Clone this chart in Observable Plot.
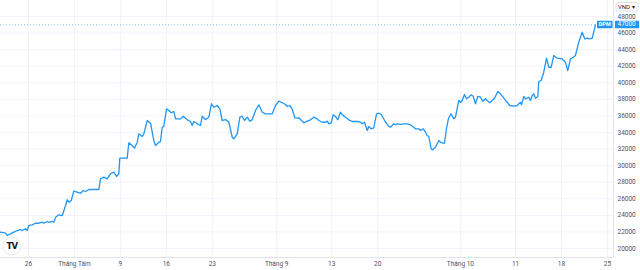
<!DOCTYPE html>
<html><head><meta charset="utf-8">
<script src="https://cdn.jsdelivr.net/npm/d3@7"></script>
<script src="https://cdn.jsdelivr.net/npm/@observablehq/plot@0.6"></script>
<style>html,body{margin:0;padding:0;background:#fff;} svg{display:block}</style>
</head><body><div id="chart"></div>
<script>
const symbol = "DPM";
const currency = "VND";
const lastPrice = 47000;
// time in trading days (0 = 26 Jul)
const t = [-3.05,-2.50,-2.32,-1.96,-1.60,-1.23,-0.87,-0.69,-0.33,-0.14,0.03,0.40,0.76,1.12,1.49,1.66,2.03,2.21,2.58,2.75,2.94,3.30,3.67,4.03,4.21,4.39,4.65,4.93,5.30,5.66,5.95,6.20,6.56,7.11,7.65,7.83,8.19,8.56,8.92,9.28,9.58,9.83,9.93,10.74,10.91,11.28,11.53,11.83,12.00,12.37,12.55,12.92,13.28,
13.63,13.82,14.18,14.36,14.55,14.72,15.02,15.27,15.53,15.81,16.00,16.54,16.83,17.27,17.63,17.81,17.99,18.36,18.72,18.90,19.26,19.62,19.91,20.16,20.53,20.82,21.08,21.44,21.80,22.17,22.34,22.71,23.00,23.25,23.50,23.80,24.08,24.34,24.70,25.06,25.43,25.79,26.52,26.88,27.24,27.61,27.97,28.15,28.43,28.69,28.98,29.24,29.41,29.60,
29.96,30.33,30.69,31.04,31.41,31.59,31.96,32.32,32.50,32.68,32.94,33.16,33.41,33.66,33.95,34.13,34.49,34.85,35.22,35.77,36.13,36.31,36.56,36.86,37.03,37.29,37.57,37.87,38.12,38.41,38.85,39.21,39.39,39.75,39.93,40.12,40.48,40.84,41.21,41.57,41.93,42.11,42.47,42.65,42.95,43.20,43.38,43.56,43.82,43.99,44.29,44.65,44.83,45.12,45.27,45.48,
45.70,45.97,
46.28,46.46,46.82,47.01,47.19,47.44,47.66,47.91,48.17,48.39,48.64,48.89,49.18,49.43,49.73,49.91,50.20,50.46,50.71,51.07,51.36,51.65,52.01,52.37,52.81,53.18,53.35,53.54,53.65,53.90,54.08,54.44,54.62,54.81,54.98,55.17,55.42,55.53,55.79,56.07,56.37,56.62,56.88,57.16,57.53,58.07,58.43,58.68,58.98,59.27,59.52,59.88,60.25,60.53,60.79,61.08,61.34,61.70];
const price = [21970,21850,21570,21770,21970,22170,22290,22170,22380,22170,22780,22860,23050,23050,23170,23050,23260,23140,23260,23170,23780,24070,23980,25190,25880,25590,25790,26920,26800,26670,27000,26880,27120,27120,27120,28410,28610,28410,29020,29210,28690,29020,30900,30900,32760,32430,32110,32830,33840,33520,33840,35450,35120,
33040,32430,32830,32910,34640,34730,36860,36660,36380,36540,35650,35650,35970,35530,35330,34850,35330,35050,34850,35970,35570,35850,37470,37050,37260,36860,35450,35570,35240,33430,33240,33840,35850,35970,35450,35850,35370,35530,36660,37340,36450,36260,36260,37260,37780,37590,37380,37140,37260,36860,35780,35730,35780,35570,
35170,35370,35530,35850,35650,35450,35240,35240,35370,35050,35170,36140,35930,35530,36450,36170,35850,35530,35330,35330,35240,35050,35240,34240,34730,34450,34570,36260,36330,36140,35240,34730,34640,35050,34930,35050,34970,35050,35050,34930,34640,34450,34450,34240,34450,34040,33640,33520,32030,31910,32230,33040,32830,32710,32710,34450,
35690,36260,
35650,35850,37860,37660,37860,38590,38070,38260,38550,38380,37470,38350,38260,37780,38070,37860,37590,37860,38140,38950,38670,38260,37740,37260,37180,37260,37470,37660,37340,38350,38070,38260,37860,38470,38670,38140,38350,40160,40280,41280,42970,41880,41880,43300,42970,42900,42490,41480,42900,43090,43300,44900,46110,45310,45380,45310,45380,47000];
const xTickPos = [0,5,10,15,20,27,33,38,47,53,58,63];
const xTickLabels = ["26","Tháng Tám","9","16","23","Tháng 9","13","20","Tháng 10","11","18","25"];
const yTicks = [20000,22000,24000,26000,28000,30000,32000,34000,36000,38000,40000,42000,44000,46000,48000];
const xDomain = [-3.05, 63.66];
const yDomain = [18914, 49934];

const data = t.map((x, i) => ({t: x, p: price[i]}));
const xTicks = xTickPos.map((x, i) => ({x, label: xTickLabels[i]}));

const grid = "#f0f3fa";
const blue = "#2196f3";
const txt = "#4c525e";

const chart = Plot.plot({
  width: 640, height: 270,
  marginLeft: 0, marginRight: 27, marginTop: 0, marginBottom: 13,
  x: {domain: xDomain, axis: null},
  y: {domain: yDomain, axis: null},
  style: {fontFamily: "Roboto, 'Liberation Sans', sans-serif", background: "#fff"},
  marks: [
    Plot.ruleY(yTicks, {stroke: grid, strokeWidth: 1}),
    Plot.ruleX(xTickPos, {stroke: grid, strokeWidth: 1}),
    Plot.ruleY([lastPrice], {stroke: blue, strokeOpacity: 0.55, strokeDasharray: "1,2"}),
    Plot.line(data, {x: "t", y: "p", stroke: blue, strokeWidth: 1.3}),
    Plot.ruleX([xDomain[1]], {stroke: "#e0e3eb"}),
    Plot.ruleY([yDomain[0]], {stroke: "#e0e3eb"}),
    Plot.text(yTicks, {y: d => d, text: d => String(d), frameAnchor: "right", dx: 4, textAnchor: "start", fontSize: 6.5, fill: txt}),
    Plot.text(xTicks, {x: "x", text: "label", frameAnchor: "bottom", dy: 6, lineAnchor: "middle", fontSize: 6.5, fill: txt})
  ]
});

const svg = d3.select(chart);
const yPix = chart.scale("y").apply(lastPrice);
const xRight = chart.scale("x").apply(xDomain[1]);
// symbol label
svg.append("rect").attr("x", xRight - 16).attr("y", yPix - 3.5).attr("width", 15.5).attr("height", 7.5).attr("fill", blue).attr("rx", 0.5);
svg.append("text").attr("x", xRight - 8.25).attr("y", yPix + 0.3).attr("text-anchor", "middle").attr("dominant-baseline", "middle")
  .attr("fill", "#fff").attr("font-size", 5.5).attr("font-weight", "bold").attr("font-family", "Roboto, sans-serif").text(symbol);
// price label
svg.append("rect").attr("x", xRight + 2).attr("y", yPix - 3.5).attr("width", 24).attr("height", 7.5).attr("fill", blue).attr("rx", 0.5);
svg.append("text").attr("x", xRight + 4.5).attr("y", yPix + 0.3).attr("text-anchor", "start").attr("dominant-baseline", "middle")
  .attr("fill", "#fff").attr("font-size", 6.5).attr("font-family", "Roboto, sans-serif").text(String(lastPrice));
// currency box
svg.append("rect").attr("x", xRight + 3).attr("y", 2.5).attr("width", 22).attr("height", 8.5).attr("fill", "#fff").attr("stroke", "#d1d4dc").attr("stroke-width", 0.7).attr("rx", 1.5);
svg.append("text").attr("x", xRight + 5).attr("y", 7).attr("text-anchor", "start").attr("dominant-baseline", "middle")
  .attr("fill", "#131722").attr("font-size", 6).attr("font-family", "Roboto, sans-serif").text(currency + " ▾");
// TradingView logo
svg.append("circle").attr("cx", 12).attr("cy", 246).attr("r", 9).attr("fill", "#fff").attr("stroke", "#e0e3eb").attr("stroke-width", 0.8);
svg.append("text").attr("x", 12).attr("y", 246.5).attr("text-anchor", "middle").attr("dominant-baseline", "middle")
  .attr("fill", "#131722").attr("font-size", 8.5).attr("font-weight", 900).attr("letter-spacing", -0.8).attr("font-family", "'DejaVu Sans', sans-serif").text("TV");

document.getElementById("chart").appendChild(chart);
</script>
</body></html>
